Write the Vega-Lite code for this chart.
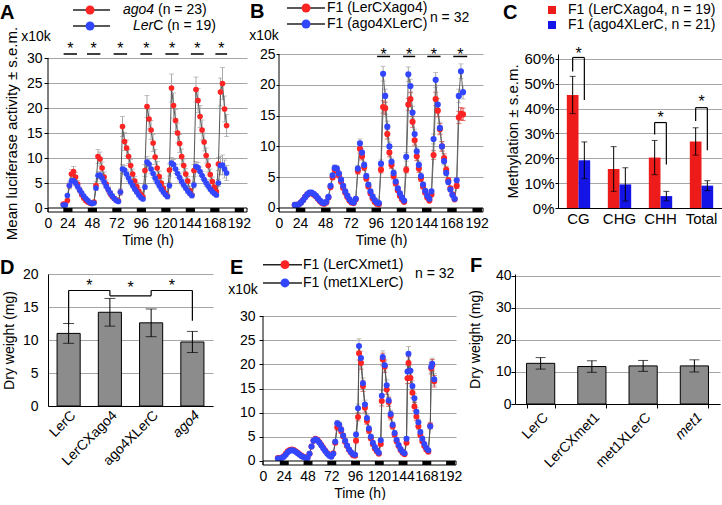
{
"$schema": "https://vega.github.io/schema/vega-lite/v6.json",
"background": "white",
"padding": {"left": 0, "top": 0, "right": 0, "bottom": 0},
"datasets": {
"A": [
{"s":"r","t":20,"v":0.8,"e":0.2},{"s":"r","t":22,"v":0.8,"e":0.2},{"s":"r","t":24,"v":1.5,"e":0.3},{"s":"r","t":26,"v":4.5,"e":0.7},{"s":"r","t":28,"v":6.8,"e":0.9},{"s":"r","t":30,"v":7.3,"e":1.0},{"s":"r","t":32,"v":6.2,"e":0.9},{"s":"r","t":34,"v":4.8,"e":0.7},{"s":"r","t":36,"v":3.6,"e":0.6},{"s":"r","t":38,"v":2.7,"e":0.5},{"s":"r","t":40,"v":2.0,"e":0.4},{"s":"r","t":42,"v":1.5,"e":0.3},{"s":"r","t":44,"v":1.2,"e":0.3},{"s":"r","t":46,"v":1.0,"e":0.3},{"s":"r","t":48,"v":0.9,"e":0.3},{"s":"r","t":50,"v":1.2,"e":0.3},
{"s":"r","t":52,"v":4.5,"e":0.8},{"s":"r","t":54,"v":10.3,"e":1.4},{"s":"r","t":56,"v":9.8,"e":1.4},{"s":"r","t":58,"v":8.0,"e":1.2},{"s":"r","t":60,"v":6.2,"e":1.0},{"s":"r","t":62,"v":4.8,"e":0.8},{"s":"r","t":64,"v":3.7,"e":0.7},{"s":"r","t":66,"v":2.9,"e":0.6},{"s":"r","t":68,"v":2.3,"e":0.5},{"s":"r","t":70,"v":1.9,"e":0.4},{"s":"r","t":72,"v":1.6,"e":0.4},{"s":"r","t":74,"v":1.4,"e":0.4},
{"s":"r","t":76,"v":3.2,"e":0.7},{"s":"r","t":78,"v":16.3,"e":2.0},{"s":"r","t":80,"v":13.3,"e":1.8},{"s":"r","t":82,"v":12.0,"e":1.6},{"s":"r","t":84,"v":10.3,"e":1.4},{"s":"r","t":86,"v":8.5,"e":1.2},{"s":"r","t":88,"v":6.8,"e":1.0},{"s":"r","t":90,"v":5.4,"e":0.9},{"s":"r","t":92,"v":4.3,"e":0.8},{"s":"r","t":94,"v":3.4,"e":0.7},{"s":"r","t":96,"v":2.7,"e":0.6},{"s":"r","t":98,"v":2.2,"e":0.5},
{"s":"r","t":100,"v":7.5,"e":1.2},{"s":"r","t":102,"v":20.3,"e":2.2},{"s":"r","t":104,"v":17.8,"e":2.0},{"s":"r","t":106,"v":15.6,"e":1.9},{"s":"r","t":108,"v":13.0,"e":1.7},{"s":"r","t":110,"v":10.2,"e":1.5},{"s":"r","t":112,"v":8.0,"e":1.3},{"s":"r","t":114,"v":6.3,"e":1.1},{"s":"r","t":116,"v":5.0,"e":0.9},{"s":"r","t":118,"v":4.0,"e":0.8},{"s":"r","t":120,"v":3.0,"e":0.7},{"s":"r","t":122,"v":2.4,"e":0.6},
{"s":"r","t":124,"v":7.6,"e":1.2},{"s":"r","t":126,"v":24.0,"e":2.8},{"s":"r","t":128,"v":20.5,"e":2.5},{"s":"r","t":130,"v":17.5,"e":2.2},{"s":"r","t":132,"v":15.0,"e":2.0},{"s":"r","t":134,"v":12.9,"e":1.8},{"s":"r","t":136,"v":10.3,"e":1.5},{"s":"r","t":138,"v":8.5,"e":1.3},{"s":"r","t":140,"v":6.8,"e":1.1},{"s":"r","t":142,"v":5.4,"e":0.9},{"s":"r","t":144,"v":3.5,"e":0.8},{"s":"r","t":146,"v":2.6,"e":0.6},
{"s":"r","t":148,"v":7.5,"e":1.2},{"s":"r","t":150,"v":23.7,"e":2.5},{"s":"r","t":152,"v":21.5,"e":2.4},{"s":"r","t":154,"v":18.3,"e":2.2},{"s":"r","t":156,"v":15.6,"e":2.0},{"s":"r","t":158,"v":13.2,"e":1.8},{"s":"r","t":160,"v":10.5,"e":1.5},{"s":"r","t":162,"v":8.5,"e":1.3},{"s":"r","t":164,"v":6.7,"e":1.1},{"s":"r","t":166,"v":5.3,"e":0.9},{"s":"r","t":168,"v":4.2,"e":0.8},{"s":"r","t":170,"v":3.3,"e":0.7},
{"s":"r","t":172,"v":8.8,"e":1.3},{"s":"r","t":174,"v":23.2,"e":2.8},{"s":"r","t":176,"v":24.9,"e":3.2},{"s":"r","t":178,"v":19.8,"e":2.6},{"s":"r","t":180,"v":16.5,"e":2.2},
{"s":"b","t":20,"v":0.6,"e":0.1},{"s":"b","t":22,"v":0.6,"e":0.1},{"s":"b","t":24,"v":2.5,"e":0.3},{"s":"b","t":26,"v":4.5,"e":0.5},{"s":"b","t":28,"v":5.4,"e":0.6},{"s":"b","t":30,"v":5.5,"e":0.6},{"s":"b","t":32,"v":5.0,"e":0.6},{"s":"b","t":34,"v":4.3,"e":0.5},{"s":"b","t":36,"v":3.6,"e":0.4},{"s":"b","t":38,"v":3.0,"e":0.4},{"s":"b","t":40,"v":2.4,"e":0.3},{"s":"b","t":42,"v":1.9,"e":0.3},{"s":"b","t":44,"v":1.5,"e":0.2},{"s":"b","t":46,"v":1.1,"e":0.2},{"s":"b","t":48,"v":0.9,"e":0.2},{"s":"b","t":50,"v":1.0,"e":0.2},
{"s":"b","t":52,"v":4.0,"e":0.5},{"s":"b","t":54,"v":6.5,"e":0.7},{"s":"b","t":56,"v":6.6,"e":0.7},{"s":"b","t":58,"v":6.0,"e":0.7},{"s":"b","t":60,"v":5.2,"e":0.6},{"s":"b","t":62,"v":4.4,"e":0.5},{"s":"b","t":64,"v":3.7,"e":0.5},{"s":"b","t":66,"v":3.0,"e":0.4},{"s":"b","t":68,"v":2.4,"e":0.3},{"s":"b","t":70,"v":1.9,"e":0.3},{"s":"b","t":72,"v":1.5,"e":0.3},{"s":"b","t":74,"v":1.3,"e":0.2},
{"s":"b","t":76,"v":3.2,"e":0.4},{"s":"b","t":78,"v":7.8,"e":0.9},{"s":"b","t":80,"v":7.6,"e":0.9},{"s":"b","t":82,"v":6.8,"e":0.8},{"s":"b","t":84,"v":6.0,"e":0.7},{"s":"b","t":86,"v":5.2,"e":0.6},{"s":"b","t":88,"v":4.5,"e":0.6},{"s":"b","t":90,"v":3.8,"e":0.5},{"s":"b","t":92,"v":3.2,"e":0.4},{"s":"b","t":94,"v":2.6,"e":0.4},{"s":"b","t":96,"v":2.1,"e":0.3},{"s":"b","t":98,"v":1.8,"e":0.3},
{"s":"b","t":100,"v":4.2,"e":0.5},{"s":"b","t":102,"v":9.2,"e":1.1},{"s":"b","t":104,"v":8.8,"e":1.0},{"s":"b","t":106,"v":7.8,"e":0.9},{"s":"b","t":108,"v":6.9,"e":0.8},{"s":"b","t":110,"v":6.0,"e":0.7},{"s":"b","t":112,"v":5.2,"e":0.6},{"s":"b","t":114,"v":4.5,"e":0.6},{"s":"b","t":116,"v":3.8,"e":0.5},{"s":"b","t":118,"v":3.2,"e":0.4},{"s":"b","t":120,"v":2.7,"e":0.4},{"s":"b","t":122,"v":2.3,"e":0.3},
{"s":"b","t":124,"v":4.5,"e":0.6},{"s":"b","t":126,"v":9.0,"e":1.1},{"s":"b","t":128,"v":8.7,"e":1.0},{"s":"b","t":130,"v":7.8,"e":0.9},{"s":"b","t":132,"v":6.9,"e":0.8},{"s":"b","t":134,"v":6.1,"e":0.7},{"s":"b","t":136,"v":5.3,"e":0.7},{"s":"b","t":138,"v":4.6,"e":0.6},{"s":"b","t":140,"v":4.0,"e":0.5},{"s":"b","t":142,"v":3.4,"e":0.5},{"s":"b","t":144,"v":2.9,"e":0.4},{"s":"b","t":146,"v":2.5,"e":0.4},
{"s":"b","t":148,"v":4.6,"e":0.6},{"s":"b","t":150,"v":8.3,"e":1.0},{"s":"b","t":152,"v":8.1,"e":1.0},{"s":"b","t":154,"v":7.3,"e":0.9},{"s":"b","t":156,"v":6.5,"e":0.8},{"s":"b","t":158,"v":5.7,"e":0.7},{"s":"b","t":160,"v":5.0,"e":0.7},{"s":"b","t":162,"v":4.4,"e":0.6},{"s":"b","t":164,"v":3.8,"e":0.5},{"s":"b","t":166,"v":3.3,"e":0.5},{"s":"b","t":168,"v":2.9,"e":0.4},{"s":"b","t":170,"v":2.6,"e":0.4},
{"s":"b","t":172,"v":5.0,"e":0.7},{"s":"b","t":174,"v":8.5,"e":1.8},{"s":"b","t":176,"v":8.6,"e":2.0},{"s":"b","t":178,"v":7.8,"e":1.8},{"s":"b","t":180,"v":7.0,"e":1.5}
],
"B": [
{"s":"r","t":19,"v":0.5,"e":0.1},{"s":"r","t":21,"v":0.5,"e":0.1},{"s":"r","t":23,"v":0.6,"e":0.1},{"s":"r","t":25,"v":0.9,"e":0.1},{"s":"r","t":27,"v":1.3,"e":0.1},{"s":"r","t":29,"v":1.8,"e":0.2},{"s":"r","t":31,"v":2.2,"e":0.2},{"s":"r","t":33,"v":2.4,"e":0.2},{"s":"r","t":35,"v":2.4,"e":0.2},{"s":"r","t":37,"v":2.2,"e":0.2},{"s":"r","t":39,"v":1.9,"e":0.2},{"s":"r","t":41,"v":1.5,"e":0.2},{"s":"r","t":43,"v":1.1,"e":0.1},{"s":"r","t":45,"v":0.8,"e":0.1},{"s":"r","t":47,"v":0.7,"e":0.1},{"s":"r","t":49,"v":0.9,"e":0.1},
{"s":"r","t":51,"v":1.7,"e":0.2},{"s":"r","t":53,"v":3.4,"e":0.3},{"s":"r","t":55,"v":5.0,"e":0.4},{"s":"r","t":57,"v":6.2,"e":0.5},{"s":"r","t":59,"v":6.1,"e":0.5},{"s":"r","t":61,"v":5.3,"e":0.4},{"s":"r","t":63,"v":4.3,"e":0.4},{"s":"r","t":65,"v":3.3,"e":0.3},{"s":"r","t":67,"v":2.5,"e":0.3},{"s":"r","t":69,"v":1.8,"e":0.2},{"s":"r","t":71,"v":1.2,"e":0.2},{"s":"r","t":73,"v":0.9,"e":0.1},{"s":"r","t":75,"v":0.8,"e":0.1},
{"s":"r","t":77,"v":1.4,"e":0.2},{"s":"r","t":79,"v":6.0,"e":0.5},{"s":"r","t":81,"v":9.6,"e":0.7},{"s":"r","t":83,"v":8.4,"e":0.6},{"s":"r","t":85,"v":6.6,"e":0.5},{"s":"r","t":87,"v":4.8,"e":0.4},{"s":"r","t":89,"v":3.5,"e":0.3},{"s":"r","t":91,"v":2.4,"e":0.3},{"s":"r","t":93,"v":1.6,"e":0.2},{"s":"r","t":95,"v":1.0,"e":0.2},{"s":"r","t":97,"v":0.7,"e":0.1},{"s":"r","t":99,"v":0.6,"e":0.1},
{"s":"r","t":101,"v":6.2,"e":0.5},{"s":"r","t":103,"v":16.4,"e":1.0},{"s":"r","t":105,"v":16.2,"e":1.0},{"s":"r","t":107,"v":12.0,"e":0.8},{"s":"r","t":109,"v":9.0,"e":0.7},{"s":"r","t":111,"v":7.0,"e":0.6},{"s":"r","t":113,"v":5.2,"e":0.5},{"s":"r","t":115,"v":4.0,"e":0.4},{"s":"r","t":117,"v":2.9,"e":0.3},{"s":"r","t":119,"v":2.0,"e":0.3},{"s":"r","t":121,"v":1.4,"e":0.2},{"s":"r","t":123,"v":1.0,"e":0.2},
{"s":"r","t":125,"v":6.2,"e":0.5},{"s":"r","t":127,"v":16.8,"e":1.0},{"s":"r","t":129,"v":17.7,"e":1.1},{"s":"r","t":131,"v":14.0,"e":0.9},{"s":"r","t":133,"v":11.0,"e":0.8},{"s":"r","t":135,"v":8.4,"e":0.7},{"s":"r","t":137,"v":6.4,"e":0.6},{"s":"r","t":139,"v":4.8,"e":0.5},{"s":"r","t":141,"v":3.5,"e":0.4},{"s":"r","t":143,"v":2.5,"e":0.3},{"s":"r","t":145,"v":1.7,"e":0.2},{"s":"r","t":147,"v":1.2,"e":0.2},
{"s":"r","t":149,"v":2.2,"e":0.3},{"s":"r","t":151,"v":8.6,"e":0.7},{"s":"r","t":153,"v":17.7,"e":1.1},{"s":"r","t":155,"v":15.8,"e":1.0},{"s":"r","t":157,"v":12.8,"e":0.9},{"s":"r","t":159,"v":10.0,"e":0.8},{"s":"r","t":161,"v":8.1,"e":0.7},{"s":"r","t":163,"v":6.2,"e":0.5},{"s":"r","t":165,"v":4.5,"e":0.4},{"s":"r","t":167,"v":3.2,"e":0.3},{"s":"r","t":169,"v":2.2,"e":0.3},{"s":"r","t":171,"v":1.4,"e":0.2},
{"s":"r","t":173,"v":3.6,"e":0.4},{"s":"r","t":175,"v":14.7,"e":1.0},{"s":"r","t":177,"v":15.3,"e":1.0},{"s":"r","t":179,"v":15.2,"e":1.0},
{"s":"b","t":19,"v":0.5,"e":0.1},{"s":"b","t":21,"v":0.5,"e":0.1},{"s":"b","t":23,"v":0.6,"e":0.1},{"s":"b","t":25,"v":0.9,"e":0.1},{"s":"b","t":27,"v":1.3,"e":0.1},{"s":"b","t":29,"v":1.8,"e":0.2},{"s":"b","t":31,"v":2.2,"e":0.2},{"s":"b","t":33,"v":2.5,"e":0.2},{"s":"b","t":35,"v":2.5,"e":0.2},{"s":"b","t":37,"v":2.3,"e":0.2},{"s":"b","t":39,"v":2.0,"e":0.2},{"s":"b","t":41,"v":1.6,"e":0.2},{"s":"b","t":43,"v":1.2,"e":0.1},{"s":"b","t":45,"v":0.9,"e":0.1},{"s":"b","t":47,"v":0.8,"e":0.1},{"s":"b","t":49,"v":1.0,"e":0.1},
{"s":"b","t":51,"v":1.8,"e":0.2},{"s":"b","t":53,"v":3.6,"e":0.3},{"s":"b","t":55,"v":5.3,"e":0.4},{"s":"b","t":57,"v":6.5,"e":0.5},{"s":"b","t":59,"v":6.4,"e":0.5},{"s":"b","t":61,"v":5.6,"e":0.4},{"s":"b","t":63,"v":4.6,"e":0.4},{"s":"b","t":65,"v":3.6,"e":0.3},{"s":"b","t":67,"v":2.7,"e":0.3},{"s":"b","t":69,"v":2.0,"e":0.2},{"s":"b","t":71,"v":1.4,"e":0.2},{"s":"b","t":73,"v":1.0,"e":0.1},{"s":"b","t":75,"v":0.9,"e":0.1},
{"s":"b","t":77,"v":1.5,"e":0.2},{"s":"b","t":79,"v":6.4,"e":0.5},{"s":"b","t":81,"v":10.5,"e":0.7},{"s":"b","t":83,"v":9.0,"e":0.6},{"s":"b","t":85,"v":7.0,"e":0.5},{"s":"b","t":87,"v":5.2,"e":0.4},{"s":"b","t":89,"v":3.8,"e":0.3},{"s":"b","t":91,"v":2.7,"e":0.3},{"s":"b","t":93,"v":1.9,"e":0.2},{"s":"b","t":95,"v":1.3,"e":0.2},{"s":"b","t":97,"v":0.9,"e":0.1},{"s":"b","t":99,"v":0.8,"e":0.1},
{"s":"b","t":101,"v":7.2,"e":0.6},{"s":"b","t":103,"v":21.8,"e":1.2},{"s":"b","t":105,"v":18.2,"e":1.1},{"s":"b","t":107,"v":13.2,"e":0.9},{"s":"b","t":109,"v":10.0,"e":0.7},{"s":"b","t":111,"v":7.5,"e":0.6},{"s":"b","t":113,"v":5.7,"e":0.5},{"s":"b","t":115,"v":4.3,"e":0.4},{"s":"b","t":117,"v":3.2,"e":0.3},{"s":"b","t":119,"v":2.4,"e":0.3},{"s":"b","t":121,"v":1.7,"e":0.2},{"s":"b","t":123,"v":1.2,"e":0.2},
{"s":"b","t":125,"v":8.3,"e":0.7},{"s":"b","t":127,"v":21.7,"e":1.2},{"s":"b","t":129,"v":19.8,"e":1.1},{"s":"b","t":131,"v":15.5,"e":1.0},{"s":"b","t":133,"v":12.0,"e":0.8},{"s":"b","t":135,"v":9.2,"e":0.7},{"s":"b","t":137,"v":7.0,"e":0.6},{"s":"b","t":139,"v":5.2,"e":0.5},{"s":"b","t":141,"v":3.8,"e":0.4},{"s":"b","t":143,"v":2.8,"e":0.3},{"s":"b","t":145,"v":2.0,"e":0.2},{"s":"b","t":147,"v":1.5,"e":0.2},
{"s":"b","t":149,"v":2.7,"e":0.3},{"s":"b","t":151,"v":11.2,"e":0.8},{"s":"b","t":153,"v":20.8,"e":1.2},{"s":"b","t":155,"v":16.8,"e":1.0},{"s":"b","t":157,"v":13.0,"e":0.9},{"s":"b","t":159,"v":10.0,"e":0.7},{"s":"b","t":161,"v":7.6,"e":0.6},{"s":"b","t":163,"v":5.7,"e":0.5},{"s":"b","t":165,"v":4.2,"e":0.4},{"s":"b","t":167,"v":3.0,"e":0.3},{"s":"b","t":169,"v":2.1,"e":0.2},{"s":"b","t":171,"v":1.5,"e":0.2},
{"s":"b","t":173,"v":4.5,"e":0.4},{"s":"b","t":175,"v":18.2,"e":1.1},{"s":"b","t":177,"v":22.2,"e":1.2},{"s":"b","t":179,"v":18.8,"e":1.1}
],
"E": [
{"s":"r","t":18,"v":0.6,"e":0.1},{"s":"r","t":20,"v":0.6,"e":0.1},{"s":"r","t":22,"v":0.7,"e":0.1},{"s":"r","t":24,"v":1.0,"e":0.1},{"s":"r","t":26,"v":1.5,"e":0.1},{"s":"r","t":28,"v":2.0,"e":0.2},{"s":"r","t":30,"v":2.3,"e":0.2},{"s":"r","t":32,"v":2.4,"e":0.2},{"s":"r","t":34,"v":2.3,"e":0.2},{"s":"r","t":36,"v":2.0,"e":0.2},{"s":"r","t":38,"v":1.7,"e":0.2},{"s":"r","t":40,"v":1.4,"e":0.1},{"s":"r","t":42,"v":1.1,"e":0.1},{"s":"r","t":44,"v":0.9,"e":0.1},{"s":"r","t":46,"v":0.7,"e":0.1},{"s":"r","t":48,"v":0.7,"e":0.1},
{"s":"r","t":50,"v":1.5,"e":0.2},{"s":"r","t":52,"v":3.0,"e":0.3},{"s":"r","t":54,"v":4.2,"e":0.3},{"s":"r","t":56,"v":4.6,"e":0.3},{"s":"r","t":58,"v":4.4,"e":0.3},{"s":"r","t":60,"v":3.9,"e":0.3},{"s":"r","t":62,"v":3.3,"e":0.3},{"s":"r","t":64,"v":2.7,"e":0.2},{"s":"r","t":66,"v":2.1,"e":0.2},{"s":"r","t":68,"v":1.6,"e":0.2},{"s":"r","t":70,"v":1.2,"e":0.1},{"s":"r","t":72,"v":1.0,"e":0.1},
{"s":"r","t":74,"v":1.6,"e":0.2},{"s":"r","t":76,"v":3.8,"e":0.4},{"s":"r","t":78,"v":7.0,"e":0.6},{"s":"r","t":80,"v":7.2,"e":0.6},{"s":"r","t":82,"v":6.2,"e":0.5},{"s":"r","t":84,"v":5.1,"e":0.4},{"s":"r","t":86,"v":4.0,"e":0.4},{"s":"r","t":88,"v":3.1,"e":0.3},{"s":"r","t":90,"v":2.3,"e":0.3},{"s":"r","t":92,"v":1.7,"e":0.2},{"s":"r","t":94,"v":1.2,"e":0.2},{"s":"r","t":96,"v":1.1,"e":0.2},
{"s":"r","t":97,"v":4.2,"e":0.4},{"s":"r","t":99,"v":9.1,"e":0.8},{"s":"r","t":100,"v":22.3,"e":1.4},{"s":"r","t":102,"v":20.3,"e":1.3},{"s":"r","t":104,"v":15.5,"e":1.1},{"s":"r","t":106,"v":11.0,"e":0.9},{"s":"r","t":108,"v":8.3,"e":0.7},{"s":"r","t":110,"v":6.3,"e":0.6},{"s":"r","t":112,"v":4.7,"e":0.5},{"s":"r","t":114,"v":3.5,"e":0.4},{"s":"r","t":116,"v":2.6,"e":0.3},{"s":"r","t":118,"v":2.0,"e":0.3},{"s":"r","t":120,"v":1.5,"e":0.2},
{"s":"r","t":122,"v":3.5,"e":0.4},{"s":"r","t":123,"v":12.4,"e":1.0},{"s":"r","t":124,"v":21.0,"e":1.3},{"s":"r","t":126,"v":19.5,"e":1.2},{"s":"r","t":128,"v":14.8,"e":1.0},{"s":"r","t":130,"v":12.2,"e":0.9},{"s":"r","t":132,"v":9.3,"e":0.8},{"s":"r","t":134,"v":7.2,"e":0.6},{"s":"r","t":136,"v":5.5,"e":0.5},{"s":"r","t":138,"v":4.1,"e":0.4},{"s":"r","t":140,"v":3.1,"e":0.3},{"s":"r","t":142,"v":2.3,"e":0.3},{"s":"r","t":144,"v":1.7,"e":0.2},{"s":"r","t":146,"v":1.4,"e":0.2},
{"s":"r","t":148,"v":3.8,"e":0.4},{"s":"r","t":149,"v":17.1,"e":1.1},{"s":"r","t":150,"v":20.3,"e":1.3},{"s":"r","t":152,"v":17.2,"e":1.1},{"s":"r","t":154,"v":14.1,"e":1.0},{"s":"r","t":156,"v":11.3,"e":0.9},{"s":"r","t":158,"v":9.2,"e":0.8},{"s":"r","t":160,"v":7.2,"e":0.6},{"s":"r","t":162,"v":5.4,"e":0.5},{"s":"r","t":164,"v":4.1,"e":0.4},{"s":"r","t":166,"v":3.1,"e":0.3},{"s":"r","t":168,"v":2.4,"e":0.3},{"s":"r","t":170,"v":1.9,"e":0.2},
{"s":"r","t":172,"v":7.3,"e":0.6},{"s":"r","t":173,"v":19.2,"e":1.2},{"s":"r","t":174,"v":19.8,"e":1.2},{"s":"r","t":176,"v":16.5,"e":1.2},
{"s":"b","t":18,"v":0.5,"e":0.1},{"s":"b","t":20,"v":0.5,"e":0.1},{"s":"b","t":22,"v":0.6,"e":0.1},{"s":"b","t":24,"v":0.9,"e":0.1},{"s":"b","t":26,"v":1.3,"e":0.1},{"s":"b","t":28,"v":1.8,"e":0.2},{"s":"b","t":30,"v":2.1,"e":0.2},{"s":"b","t":32,"v":2.2,"e":0.2},{"s":"b","t":34,"v":2.1,"e":0.2},{"s":"b","t":36,"v":1.9,"e":0.2},{"s":"b","t":38,"v":1.6,"e":0.2},{"s":"b","t":40,"v":1.3,"e":0.1},{"s":"b","t":42,"v":1.0,"e":0.1},{"s":"b","t":44,"v":0.8,"e":0.1},{"s":"b","t":46,"v":0.6,"e":0.1},{"s":"b","t":48,"v":0.6,"e":0.1},
{"s":"b","t":50,"v":1.5,"e":0.2},{"s":"b","t":52,"v":3.0,"e":0.3},{"s":"b","t":54,"v":4.2,"e":0.3},{"s":"b","t":56,"v":4.5,"e":0.3},{"s":"b","t":58,"v":4.3,"e":0.3},{"s":"b","t":60,"v":3.8,"e":0.3},{"s":"b","t":62,"v":3.2,"e":0.3},{"s":"b","t":64,"v":2.6,"e":0.2},{"s":"b","t":66,"v":2.0,"e":0.2},{"s":"b","t":68,"v":1.5,"e":0.2},{"s":"b","t":70,"v":1.1,"e":0.1},{"s":"b","t":72,"v":0.9,"e":0.1},
{"s":"b","t":74,"v":1.5,"e":0.2},{"s":"b","t":76,"v":4.0,"e":0.4},{"s":"b","t":78,"v":7.8,"e":0.6},{"s":"b","t":80,"v":7.5,"e":0.6},{"s":"b","t":82,"v":6.5,"e":0.5},{"s":"b","t":84,"v":5.3,"e":0.4},{"s":"b","t":86,"v":4.2,"e":0.4},{"s":"b","t":88,"v":3.2,"e":0.3},{"s":"b","t":90,"v":2.4,"e":0.3},{"s":"b","t":92,"v":1.8,"e":0.2},{"s":"b","t":94,"v":1.4,"e":0.2},{"s":"b","t":96,"v":1.3,"e":0.2},
{"s":"b","t":97,"v":5.5,"e":0.5},{"s":"b","t":99,"v":10.9,"e":0.9},{"s":"b","t":100,"v":23.8,"e":1.5},{"s":"b","t":102,"v":21.3,"e":1.4},{"s":"b","t":104,"v":16.1,"e":1.1},{"s":"b","t":106,"v":11.7,"e":0.9},{"s":"b","t":108,"v":8.9,"e":0.7},{"s":"b","t":110,"v":6.7,"e":0.6},{"s":"b","t":112,"v":5.0,"e":0.5},{"s":"b","t":114,"v":3.8,"e":0.4},{"s":"b","t":116,"v":2.9,"e":0.3},{"s":"b","t":118,"v":2.2,"e":0.3},{"s":"b","t":120,"v":1.7,"e":0.2},
{"s":"b","t":122,"v":4.3,"e":0.4},{"s":"b","t":123,"v":13.5,"e":1.1},{"s":"b","t":124,"v":21.5,"e":1.3},{"s":"b","t":126,"v":19.8,"e":1.2},{"s":"b","t":128,"v":15.7,"e":1.1},{"s":"b","t":130,"v":12.5,"e":0.9},{"s":"b","t":132,"v":9.7,"e":0.8},{"s":"b","t":134,"v":7.5,"e":0.6},{"s":"b","t":136,"v":5.8,"e":0.5},{"s":"b","t":138,"v":4.4,"e":0.4},{"s":"b","t":140,"v":3.3,"e":0.3},{"s":"b","t":142,"v":2.5,"e":0.3},{"s":"b","t":144,"v":1.9,"e":0.2},{"s":"b","t":146,"v":1.6,"e":0.2},
{"s":"b","t":148,"v":4.6,"e":0.4},{"s":"b","t":149,"v":18.5,"e":1.2},{"s":"b","t":150,"v":22.2,"e":1.5},{"s":"b","t":152,"v":18.7,"e":1.2},{"s":"b","t":154,"v":15.5,"e":1.1},{"s":"b","t":156,"v":13.0,"e":0.9},{"s":"b","t":158,"v":10.2,"e":0.8},{"s":"b","t":160,"v":8.0,"e":0.7},{"s":"b","t":162,"v":6.0,"e":0.5},{"s":"b","t":164,"v":4.6,"e":0.4},{"s":"b","t":166,"v":3.5,"e":0.3},{"s":"b","t":168,"v":2.7,"e":0.3},{"s":"b","t":170,"v":2.2,"e":0.2},
{"s":"b","t":172,"v":7.2,"e":0.6},{"s":"b","t":173,"v":19.5,"e":1.2},{"s":"b","t":174,"v":20.1,"e":1.2},{"s":"b","t":176,"v":16.9,"e":1.2}
],
"nights": [{"a":20,"b":29},{"a":44,"b":53},{"a":68,"b":77},{"a":92,"b":101},{"a":116,"b":125},{"a":140,"b":149},{"a":164,"b":173},{"a":188,"b":197}],
"starsA": [{"a":20.3,"b":33.4,"m":26.9},{"a":43.2,"b":56.3,"m":49.8},{"a":69.3,"b":82.5,"m":75.9},{"a":95.5,"b":107,"m":101.3},{"a":120,"b":133,"m":126.5},{"a":145,"b":157.6,"m":151.3},{"a":169,"b":180.5,"m":174.8}],
"starsB": [{"a":97.3,"b":109.6,"m":103.5},{"a":122,"b":133.5,"m":127.8},{"a":145,"b":157.6,"m":151.3},{"a":169.7,"b":183,"m":176.4}],
"C": [
{"c":"CG","g":"r","v":0.455,"lo":0.38,"hi":0.53},{"c":"CG","g":"b","v":0.192,"lo":0.118,"hi":0.266},
{"c":"CHG","g":"r","v":0.157,"lo":0.067,"hi":0.247},{"c":"CHG","g":"b","v":0.095,"lo":0.028,"hi":0.162},
{"c":"CHH","g":"r","v":0.203,"lo":0.134,"hi":0.272},{"c":"CHH","g":"b","v":0.048,"lo":0.029,"hi":0.067},
{"c":"Total","g":"r","v":0.268,"lo":0.213,"hi":0.323},{"c":"Total","g":"b","v":0.09,"lo":0.07,"hi":0.11}
],
"Cbr": [{"c":"CG","l":0.55,"r":0.435,"top":0.606,"st":0.601},{"c":"CHH","l":0.296,"r":0.175,"top":0.344,"st":0.341},{"c":"Total","l":0.35,"r":0.233,"top":0.404,"st":0.406}],
"D": [{"c":"LerC","v":11.0,"e":1.5},{"c":"LerCXago4","v":14.2,"e":2.1},{"c":"ago4XLerC","v":12.6,"e":2.1},{"c":"ago4","v":9.7,"e":1.6}],
"Dv": [{"c":"LerC","y1":12.4,"y2":17.5},{"c":"LerCXago4","y1":16.7,"y2":17.5},{"c":"ago4XLerC","y1":16.7,"y2":17.5},{"c":"ago4","y1":12.9,"y2":17.5}],
"Dh": [{"c1":"LerC","c2":"LerCXago4","y":17.5},{"c1":"LerCXago4","c2":"ago4XLerC","y":16.7},{"c1":"ago4XLerC","c2":"ago4","y":17.5}],
"Ds": [{"c":"LerC","y":17.4},{"c":"LerCXago4","y":17.1},{"c":"ago4XLerC","y":17.4}],
"F": [{"c":"LerC","v":12.7,"e":1.8},{"c":"LerCXmet1","v":11.7,"e":1.8},{"c":"met1XLerC","v":11.9,"e":1.7},{"c":"met1","v":11.9,"e":1.9}]
},
"spacing": 8,
"resolve": {"scale": {"color": "independent", "fill": "independent"}, "legend": {"color": "independent", "fill": "independent"}},
"vconcat": [
{"hconcat": [
{
 "width": 199, "height": 158,
 "layer": [
  {"data": {"name": "A"},
   "mark": {"type": "errorbar", "ticks": {"size": 5}, "color": "#a8a8a8"},
   "encoding": {
    "x": {"field": "t", "type": "quantitative", "scale": {"domain": [5, 200], "nice": false, "zero": false},
      "axis": {"title": "Time (h)", "values": [5,24,48,72,96,120,144,168,192], "tickCount": 50, "format": "d", "labelExpr": "datum.value == 5 ? '0' : datum.label", "labelFlush": false, "labelOverlap": false, "ticks": false, "domain": false, "grid": false, "labelPadding": 4, "titlePadding": 3}},
    "y": {"field": "v", "type": "quantitative", "scale": {"domain": [-0.8, 30.8], "nice": false, "zero": false},
      "axis": {"title": "Mean luciferase activity ± s.e.m.", "values": [0,5,10,15,20,25,30], "tickCount": 50, "format": "d", "domain": false, "tickSize": 4, "labelPadding": 2, "grid": true, "titleFontSize": 15, "titlePadding": 7}},
    "yError": {"field": "e"}
   }},
  {"data": {"name": "A"}, "mark": {"type": "line", "color": "#555", "strokeWidth": 1},
   "encoding": {"x": {"field": "t", "type": "quantitative"}, "y": {"field": "v", "type": "quantitative"}, "detail": {"field": "s"}}},
  {"data": {"name": "A"}, "mark": {"type": "point", "filled": true, "size": 32, "opacity": 1},
   "encoding": {"x": {"field": "t", "type": "quantitative"}, "y": {"field": "v", "type": "quantitative"},
    "color": {"field": "s", "type": "nominal", "scale": {"domain": ["r", "b"], "range": ["#ff2424", "#3346ff"]}, "legend": null}}},
  {"data": {"values": [{}]}, "mark": {"type": "rect", "fill": "white", "stroke": "black", "strokeWidth": 1},
   "encoding": {"x": {"datum": 5, "type": "quantitative"}, "x2": {"datum": 200}, "y": {"datum": -0.8, "type": "quantitative"}, "y2": {"datum": 0}}},
  {"data": {"name": "nights"}, "mark": {"type": "rect", "fill": "black"},
   "encoding": {"x": {"field": "a", "type": "quantitative"}, "x2": {"field": "b"}, "y": {"datum": -0.8, "type": "quantitative"}, "y2": {"datum": 0}}},
  {"data": {"values": [{}]}, "mark": {"type": "rule", "color": "black", "strokeWidth": 1},
   "encoding": {"x": {"datum": 5, "type": "quantitative"}, "y": {"datum": -0.8, "type": "quantitative"}, "y2": {"datum": 30}}},
  {"data": {"name": "starsA"}, "mark": {"type": "rule", "color": "black", "strokeWidth": 1.5},
   "encoding": {"x": {"field": "a", "type": "quantitative"}, "x2": {"field": "b"}, "y": {"datum": 30.8, "type": "quantitative"}}},
  {"data": {"name": "starsA"}, "mark": {"type": "text", "text": "*", "fontSize": 16, "baseline": "alphabetic", "align": "center"},
   "encoding": {"x": {"field": "m", "type": "quantitative"}, "y": {"datum": 30.9, "type": "quantitative"}}},
  {"data": {"values": [{}]}, "mark": {"type": "text", "text": "x10k", "fontSize": 14, "baseline": "middle", "align": "center", "dx": -12},
   "encoding": {"x": {"datum": 5, "type": "quantitative"}, "y": {"datum": 34.2, "type": "quantitative"}}},
  {"data": {"values": [{}]}, "mark": {"type": "text", "text": "A", "fontSize": 20, "fontWeight": "bold", "baseline": "alphabetic", "align": "left", "dx": -48},
   "encoding": {"x": {"datum": 5, "type": "quantitative"}, "y": {"datum": 37.8, "type": "quantitative"}}},
  {"data": {"values": [{}]}, "mark": {"type": "rule", "color": "#222", "strokeWidth": 1.5},
   "encoding": {"x": {"datum": 29.5, "type": "quantitative"}, "x2": {"datum": 65.8}, "y": {"datum": 39.6, "type": "quantitative"}}},
  {"data": {"values": [{}]}, "mark": {"type": "rule", "color": "#222", "strokeWidth": 1.5},
   "encoding": {"x": {"datum": 29.5, "type": "quantitative"}, "x2": {"datum": 65.8}, "y": {"datum": 36.4, "type": "quantitative"}}},
  {"data": {"values": [{}]}, "mark": {"type": "point", "filled": true, "size": 80, "opacity": 1, "color": "#ff2424"},
   "encoding": {"x": {"datum": 46.2, "type": "quantitative"}, "y": {"datum": 39.6, "type": "quantitative"}}},
  {"data": {"values": [{}]}, "mark": {"type": "point", "filled": true, "size": 80, "opacity": 1, "color": "#3346ff"},
   "encoding": {"x": {"datum": 46.2, "type": "quantitative"}, "y": {"datum": 36.4, "type": "quantitative"}}},
  {"data": {"values": [{}]}, "mark": {"type": "text", "text": "ago4", "fontStyle": "italic", "fontSize": 14, "baseline": "middle", "align": "left"},
   "encoding": {"x": {"datum": 78.5, "type": "quantitative"}, "y": {"datum": 39.6, "type": "quantitative"}}},
  {"data": {"values": [{}]}, "mark": {"type": "text", "text": "(n = 23)", "fontSize": 14, "baseline": "middle", "align": "left", "dx": 35},
   "encoding": {"x": {"datum": 78.5, "type": "quantitative"}, "y": {"datum": 39.6, "type": "quantitative"}}},
  {"data": {"values": [{}]}, "mark": {"type": "text", "text": "Ler", "fontStyle": "italic", "fontSize": 14, "baseline": "middle", "align": "left"},
   "encoding": {"x": {"datum": 88.3, "type": "quantitative"}, "y": {"datum": 36.4, "type": "quantitative"}}},
  {"data": {"values": [{}]}, "mark": {"type": "text", "text": "C (n = 19)", "fontSize": 14, "baseline": "middle", "align": "left", "dx": 20.2},
   "encoding": {"x": {"datum": 88.3, "type": "quantitative"}, "y": {"datum": 36.4, "type": "quantitative"}}}
 ]
},
{"width": 4, "height": 1, "data": {"values": [{}]}, "mark": {"type": "point", "opacity": 0}, "encoding": {}},
{
 "width": 204, "height": 158,
 "layer": [
  {"data": {"name": "B"}, "transform": [{"filter": "datum.s == 'b'"}],
   "mark": {"type": "errorbar", "ticks": {"size": 5}, "color": "#a8a8a8"},
   "encoding": {
    "x": {"field": "t", "type": "quantitative", "scale": {"domain": [4, 198], "nice": false, "zero": false},
      "axis": {"title": "Time (h)", "values": [4,24,48,72,96,120,144,168,192], "tickCount": 50, "format": "d", "labelExpr": "datum.value == 4 ? '0' : datum.label", "labelFlush": false, "labelOverlap": false, "ticks": false, "domain": false, "grid": false, "labelPadding": 4, "titlePadding": 3}},
    "y": {"field": "v", "type": "quantitative", "scale": {"domain": [-0.65, 25], "nice": false, "zero": false},
      "axis": {"title": null, "values": [0,5,10,15,20,25], "tickCount": 50, "format": "d", "domain": false, "tickSize": 3, "labelPadding": 1, "grid": true}},
    "yError": {"field": "e"}
   }},
  {"data": {"name": "B"}, "transform": [{"filter": "datum.s == 'r'"}],
   "mark": {"type": "errorbar", "ticks": {"size": 5}, "color": "#e23a3a"},
   "encoding": {"x": {"field": "t", "type": "quantitative"}, "y": {"field": "v", "type": "quantitative", "title": null}, "yError": {"field": "e"}}},
  {"data": {"name": "B"}, "mark": {"type": "line", "color": "#666", "strokeWidth": 1},
   "encoding": {"x": {"field": "t", "type": "quantitative"}, "y": {"field": "v", "type": "quantitative"}, "detail": {"field": "s"}}},
  {"data": {"name": "B"}, "mark": {"type": "point", "filled": true, "size": 38, "opacity": 1},
   "encoding": {"x": {"field": "t", "type": "quantitative"}, "y": {"field": "v", "type": "quantitative"},
    "color": {"field": "s", "type": "nominal", "scale": {"domain": ["r", "b"], "range": ["#ff2424", "#3346ff"]}, "legend": null}}},
  {"data": {"values": [{}]}, "mark": {"type": "rect", "fill": "white", "stroke": "black", "strokeWidth": 1},
   "encoding": {"x": {"datum": 4, "type": "quantitative"}, "x2": {"datum": 198}, "y": {"datum": -0.65, "type": "quantitative"}, "y2": {"datum": 0}}},
  {"data": {"name": "nights"}, "mark": {"type": "rect", "fill": "black"},
   "encoding": {"x": {"field": "a", "type": "quantitative"}, "x2": {"field": "b"}, "y": {"datum": -0.65, "type": "quantitative"}, "y2": {"datum": 0}}},
  {"data": {"values": [{}]}, "mark": {"type": "rule", "color": "black", "strokeWidth": 1},
   "encoding": {"x": {"datum": 4, "type": "quantitative"}, "y": {"datum": -0.65, "type": "quantitative"}, "y2": {"datum": 25}}},
  {"data": {"name": "starsB"}, "mark": {"type": "rule", "color": "black", "strokeWidth": 1.5},
   "encoding": {"x": {"field": "a", "type": "quantitative"}, "x2": {"field": "b"}, "y": {"datum": 24.6, "type": "quantitative"}}},
  {"data": {"name": "starsB"}, "mark": {"type": "text", "text": "*", "fontSize": 16, "baseline": "alphabetic", "align": "center"},
   "encoding": {"x": {"field": "m", "type": "quantitative"}, "y": {"datum": 24.1, "type": "quantitative"}}},
  {"data": {"values": [{}]}, "mark": {"type": "text", "text": "x10k", "fontSize": 14, "baseline": "middle", "align": "center", "dx": -15},
   "encoding": {"x": {"datum": 4, "type": "quantitative"}, "y": {"datum": 27.9, "type": "quantitative"}}},
  {"data": {"values": [{}]}, "mark": {"type": "text", "text": "B", "fontSize": 20, "fontWeight": "bold", "baseline": "alphabetic", "align": "left", "dx": -29},
   "encoding": {"x": {"datum": 4, "type": "quantitative"}, "y": {"datum": 30.84, "type": "quantitative"}}},
  {"data": {"values": [{}]}, "mark": {"type": "rule", "color": "#222", "strokeWidth": 1.5},
   "encoding": {"x": {"datum": 11.6, "type": "quantitative"}, "x2": {"datum": 47.7}, "y": {"datum": 32.47, "type": "quantitative"}}},
  {"data": {"values": [{}]}, "mark": {"type": "rule", "color": "#222", "strokeWidth": 1.5},
   "encoding": {"x": {"datum": 11.6, "type": "quantitative"}, "x2": {"datum": 47.7}, "y": {"datum": 29.87, "type": "quantitative"}}},
  {"data": {"values": [{}]}, "mark": {"type": "point", "filled": true, "size": 80, "opacity": 1, "color": "#ff2424"},
   "encoding": {"x": {"datum": 29.7, "type": "quantitative"}, "y": {"datum": 32.47, "type": "quantitative"}}},
  {"data": {"values": [{}]}, "mark": {"type": "point", "filled": true, "size": 80, "opacity": 1, "color": "#3346ff"},
   "encoding": {"x": {"datum": 29.7, "type": "quantitative"}, "y": {"datum": 29.87, "type": "quantitative"}}},
  {"data": {"values": [{}]}, "mark": {"type": "text", "text": "F1 (LerCXago4)", "fontSize": 14, "baseline": "middle", "align": "left"},
   "encoding": {"x": {"datum": 49.6, "type": "quantitative"}, "y": {"datum": 32.47, "type": "quantitative"}}},
  {"data": {"values": [{}]}, "mark": {"type": "text", "text": "F1 (ago4XLerC)", "fontSize": 14, "baseline": "middle", "align": "left"},
   "encoding": {"x": {"datum": 49.6, "type": "quantitative"}, "y": {"datum": 29.87, "type": "quantitative"}}},
  {"data": {"values": [{}]}, "mark": {"type": "text", "text": "n = 32", "fontSize": 14, "baseline": "middle", "align": "left"},
   "encoding": {"x": {"datum": 147.5, "type": "quantitative"}, "y": {"datum": 30.84, "type": "quantitative"}}}
 ]
},
{"width": 47, "height": 1, "data": {"values": [{}]}, "mark": {"type": "point", "opacity": 0}, "encoding": {}},
{
 "width": 164, "height": 154,
 "layer": [
  {"data": {"name": "C"}, "mark": {"type": "bar"},
   "encoding": {
    "x": {"field": "c", "type": "nominal", "sort": null, "scale": {"domain": ["CG", "CHG", "CHH", "Total"], "paddingInner": 0.43, "paddingOuter": 0.215},
      "axis": {"title": null, "labelAngle": 0, "ticks": false, "labelFontSize": 15, "labelPadding": 3}},
    "xOffset": {"field": "g", "type": "nominal", "scale": {"domain": ["r", "b"], "paddingInner": 0, "paddingOuter": 0}},
    "y": {"field": "v", "type": "quantitative", "scale": {"domain": [0, 0.62], "nice": false},
      "axis": {"title": "Methylation ± s.e.m.", "values": [0,0.1,0.2,0.3,0.4,0.5,0.6], "tickCount": 50, "format": ".0%", "tickSize": 3, "labelPadding": 1, "grid": true, "labelFontSize": 15, "titleFontSize": 15, "titlePadding": 3}},
    "fill": {"field": "g", "type": "nominal", "scale": {"domain": ["r", "b"], "range": ["#ee1b1b", "#1414e6"]},
     "legend": {"orient": "none", "legendX": -55, "legendY": -51, "title": "C", "titleOrient": "left", "titleAnchor": "start", "titleBaseline": "top", "titlePadding": 27, "titleFontSize": 20, "titleFontWeight": "bold", "titleColor": "#000", "titleFont": "Liberation Sans",
      "symbolType": "square", "symbolSize": 64, "symbolStrokeWidth": 0, "rowPadding": 1, "labelOffset": 9,
      "labelExpr": "datum.value == 'r' ? 'F1 (LerCXago4, n = 19)' : 'F1 (ago4XLerC, n = 21)'"}}
   }},
  {"data": {"name": "C"}, "mark": {"type": "rule", "color": "black", "strokeWidth": 1},
   "encoding": {"x": {"field": "c", "type": "nominal"}, "xOffset": {"field": "g", "type": "nominal"}, "y": {"field": "lo", "type": "quantitative"}, "y2": {"field": "hi"}}},
  {"data": {"name": "C"}, "mark": {"type": "tick", "color": "black", "size": 6, "thickness": 1},
   "encoding": {"x": {"field": "c", "type": "nominal"}, "xOffset": {"field": "g", "type": "nominal"}, "y": {"field": "lo", "type": "quantitative"}}},
  {"data": {"name": "C"}, "mark": {"type": "tick", "color": "black", "size": 6, "thickness": 1},
   "encoding": {"x": {"field": "c", "type": "nominal"}, "xOffset": {"field": "g", "type": "nominal"}, "y": {"field": "hi", "type": "quantitative"}}},
  {"data": {"name": "Cbr"}, "mark": {"type": "rule", "color": "black", "strokeWidth": 1.2},
   "encoding": {"x": {"field": "c", "type": "nominal", "bandPosition": 0.25}, "y": {"field": "l", "type": "quantitative"}, "y2": {"field": "top"}}},
  {"data": {"name": "Cbr"}, "mark": {"type": "rule", "color": "black", "strokeWidth": 1.2},
   "encoding": {"x": {"field": "c", "type": "nominal", "bandPosition": 0.75}, "y": {"field": "r", "type": "quantitative"}, "y2": {"field": "top"}}},
  {"data": {"name": "Cbr"}, "mark": {"type": "rule", "color": "black", "strokeWidth": 1.2},
   "encoding": {"x": {"field": "c", "type": "nominal", "bandPosition": 0.25}, "x2": {"field": "c", "bandPosition": 0.75}, "y": {"field": "top", "type": "quantitative"}}},
  {"data": {"name": "Cbr"}, "mark": {"type": "text", "text": "*", "fontSize": 16, "baseline": "alphabetic", "align": "center"},
   "encoding": {"x": {"field": "c", "type": "nominal", "bandPosition": 0.5}, "y": {"field": "st", "type": "quantitative"}}}
 ]
}
], "spacing": 14, "bounds": "flush",
 "resolve": {"scale": {"color": "independent", "fill": "independent"}, "legend": {"color": "independent", "fill": "independent"}}},
{"hconcat": [
{
 "width": 165, "height": 132,
 "layer": [
  {"data": {"name": "D"}, "mark": {"type": "bar", "color": "#8c8c8c", "stroke": "black", "strokeWidth": 1},
   "encoding": {
    "x": {"field": "c", "type": "nominal", "sort": null, "scale": {"domain": ["LerC", "LerCXago4", "ago4XLerC", "ago4"], "paddingInner": 0.44, "paddingOuter": 0.22},
      "axis": {"title": null, "labelAngle": -45, "ticks": false, "labelPadding": 2, "labelFontStyle": {"condition": {"test": "datum.value === 'ago4'", "value": "italic"}, "value": "normal"}}},
    "y": {"field": "v", "type": "quantitative", "title": "Dry weight (mg)", "scale": {"domain": [0, 20], "nice": false},
      "axis": {"values": [0,5,10,15,20], "tickCount": 50, "format": "d", "ticks": false, "labelPadding": 10, "grid": true, "titlePadding": 6}}
   }},
  {"data": {"name": "D"}, "mark": {"type": "errorbar", "ticks": {"size": 11}, "color": "black"},
   "encoding": {"x": {"field": "c", "type": "nominal"}, "y": {"field": "v", "type": "quantitative", "title": "Dry weight (mg)"}, "yError": {"field": "e"}}},
  {"data": {"name": "Dv"}, "mark": {"type": "rule", "color": "black", "strokeWidth": 1.2},
   "encoding": {"x": {"field": "c", "type": "nominal", "bandPosition": 0.5}, "y": {"field": "y1", "type": "quantitative"}, "y2": {"field": "y2"}}},
  {"data": {"name": "Dh"}, "mark": {"type": "rule", "color": "black", "strokeWidth": 1.2},
   "encoding": {"x": {"field": "c1", "type": "nominal", "bandPosition": 0.5}, "x2": {"field": "c2", "bandPosition": 0.5}, "y": {"field": "y", "type": "quantitative"}}},
  {"data": {"name": "Ds"}, "mark": {"type": "text", "text": "*", "fontSize": 16, "baseline": "alphabetic", "align": "center"},
   "encoding": {"x": {"field": "c", "type": "nominal", "bandPosition": 1.393}, "y": {"field": "y", "type": "quantitative"}}},
  {"data": {"values": [{}]}, "mark": {"type": "text", "text": "D", "fontSize": 20, "fontWeight": "bold", "baseline": "alphabetic", "align": "left", "dx": -68.6},
   "encoding": {"x": {"datum": "LerC", "type": "nominal"}, "y": {"datum": 20, "type": "quantitative"}}}
 ]
},
{"width": 22, "height": 1, "data": {"values": [{}]}, "mark": {"type": "point", "opacity": 0}, "encoding": {}},
{
 "width": 193, "height": 191,
 "layer": [
  {"data": {"name": "E"}, "transform": [{"filter": "datum.s == 'b'"}],
   "mark": {"type": "errorbar", "ticks": {"size": 5}, "color": "#a8a8a8"},
   "encoding": {
    "x": {"field": "t", "type": "quantitative", "scale": {"domain": [3, 198], "nice": false, "zero": false},
      "axis": {"title": "Time (h)", "values": [3,24,48,72,96,120,144,168,192], "tickCount": 50, "format": "d", "labelExpr": "datum.value == 3 ? '0' : datum.label", "labelFlush": false, "labelOverlap": false, "ticks": false, "domain": false, "grid": false, "labelPadding": 4, "titlePadding": 3}},
    "y": {"field": "v", "type": "quantitative", "scale": {"domain": [-0.83, 38.7], "nice": false, "zero": false},
      "axis": {"title": null, "values": [0,5,10,15,20,25,30], "tickCount": 50, "format": "d", "domain": false, "tickSize": 4, "labelPadding": 4, "grid": true}},
    "yError": {"field": "e"}
   }},
  {"data": {"name": "E"}, "transform": [{"filter": "datum.s == 'r'"}],
   "mark": {"type": "errorbar", "ticks": {"size": 5}, "color": "#d04040"},
   "encoding": {"x": {"field": "t", "type": "quantitative"}, "y": {"field": "v", "type": "quantitative", "title": null}, "yError": {"field": "e"}}},
  {"data": {"name": "E"}, "mark": {"type": "line", "color": "#555", "strokeWidth": 1},
   "encoding": {"x": {"field": "t", "type": "quantitative"}, "y": {"field": "v", "type": "quantitative"}, "detail": {"field": "s"}}},
  {"data": {"name": "E"}, "mark": {"type": "point", "filled": true, "size": 36, "opacity": 1},
   "encoding": {"x": {"field": "t", "type": "quantitative"}, "y": {"field": "v", "type": "quantitative"},
    "color": {"field": "s", "type": "nominal", "scale": {"domain": ["r", "b"], "range": ["#ff2424", "#3346ff"]}, "legend": null}}},
  {"data": {"values": [{}]}, "mark": {"type": "rect", "fill": "white", "stroke": "black", "strokeWidth": 1},
   "encoding": {"x": {"datum": 3, "type": "quantitative"}, "x2": {"datum": 198}, "y": {"datum": -0.83, "type": "quantitative"}, "y2": {"datum": 0}}},
  {"data": {"name": "nights"}, "mark": {"type": "rect", "fill": "black"},
   "encoding": {"x": {"field": "a", "type": "quantitative"}, "x2": {"field": "b"}, "y": {"datum": -0.83, "type": "quantitative"}, "y2": {"datum": 0}}},
  {"data": {"values": [{}]}, "mark": {"type": "rule", "color": "black", "strokeWidth": 1},
   "encoding": {"x": {"datum": 3, "type": "quantitative"}, "y": {"datum": -0.83, "type": "quantitative"}, "y2": {"datum": 30}}},
  {"data": {"values": [{}]}, "mark": {"type": "text", "text": "x10k", "fontSize": 14, "baseline": "middle", "align": "center", "dx": -20},
   "encoding": {"x": {"datum": 3, "type": "quantitative"}, "y": {"datum": 35.3, "type": "quantitative"}}},
  {"data": {"values": [{}]}, "mark": {"type": "text", "text": "E", "fontSize": 20, "fontWeight": "bold", "baseline": "alphabetic", "align": "left", "dx": -33},
   "encoding": {"x": {"datum": 3, "type": "quantitative"}, "y": {"datum": 38.7, "type": "quantitative"}}},
  {"data": {"values": [{}]}, "mark": {"type": "rule", "color": "#222", "strokeWidth": 1.5},
   "encoding": {"x": {"datum": 3, "type": "quantitative"}, "x2": {"datum": 42.4}, "y": {"datum": 40.64, "type": "quantitative"}}},
  {"data": {"values": [{}]}, "mark": {"type": "rule", "color": "#222", "strokeWidth": 1.5},
   "encoding": {"x": {"datum": 3, "type": "quantitative"}, "x2": {"datum": 42.4}, "y": {"datum": 36.85, "type": "quantitative"}}},
  {"data": {"values": [{}]}, "mark": {"type": "point", "filled": true, "size": 80, "opacity": 1, "color": "#ff2424"},
   "encoding": {"x": {"datum": 25.2, "type": "quantitative"}, "y": {"datum": 40.64, "type": "quantitative"}}},
  {"data": {"values": [{}]}, "mark": {"type": "point", "filled": true, "size": 80, "opacity": 1, "color": "#3346ff"},
   "encoding": {"x": {"datum": 25.2, "type": "quantitative"}, "y": {"datum": 36.85, "type": "quantitative"}}},
  {"data": {"values": [{}]}, "mark": {"type": "text", "text": "F1 (LerCXmet1)", "fontSize": 14, "baseline": "middle", "align": "left"},
   "encoding": {"x": {"datum": 43.4, "type": "quantitative"}, "y": {"datum": 40.64, "type": "quantitative"}}},
  {"data": {"values": [{}]}, "mark": {"type": "text", "text": "F1 (met1XLerC)", "fontSize": 14, "baseline": "middle", "align": "left"},
   "encoding": {"x": {"datum": 43.4, "type": "quantitative"}, "y": {"datum": 36.85, "type": "quantitative"}}},
  {"data": {"values": [{}]}, "mark": {"type": "text", "text": "n = 32", "fontSize": 14, "baseline": "middle", "align": "left"},
   "encoding": {"x": {"datum": 156.6, "type": "quantitative"}, "y": {"datum": 38.72, "type": "quantitative"}}}
 ]
},
{"width": 31, "height": 1, "data": {"values": [{}]}, "mark": {"type": "point", "opacity": 0}, "encoding": {}},
{
 "width": 205, "height": 130,
 "layer": [
  {"data": {"name": "F"}, "mark": {"type": "bar", "color": "#8c8c8c", "stroke": "black", "strokeWidth": 1},
   "encoding": {
    "x": {"field": "c", "type": "nominal", "sort": null, "scale": {"domain": ["LerC", "LerCXmet1", "met1XLerC", "met1"], "paddingInner": 0.45, "paddingOuter": 0.225},
      "axis": {"title": null, "labelAngle": -45, "ticks": true, "tickBand": "extent", "tickSize": 4, "labelPadding": 2, "labelFontStyle": {"condition": {"test": "datum.value === 'met1'", "value": "italic"}, "value": "normal"}}},
    "y": {"field": "v", "type": "quantitative", "title": "Dry weight (mg)", "scale": {"domain": [0, 40.6], "nice": false},
      "axis": {"values": [0,10,20,30,40], "tickCount": 50, "format": "d", "tickSize": 4, "labelPadding": 0, "grid": true, "titlePadding": 13}}
   }},
  {"data": {"name": "F"}, "mark": {"type": "errorbar", "ticks": {"size": 10}, "color": "black"},
   "encoding": {"x": {"field": "c", "type": "nominal"}, "y": {"field": "v", "type": "quantitative", "title": "Dry weight (mg)"}, "yError": {"field": "e"}}},
  {"data": {"values": [{}]}, "mark": {"type": "text", "text": "F", "fontSize": 20, "fontWeight": "bold", "baseline": "alphabetic", "align": "left", "dx": -70.6},
   "encoding": {"x": {"datum": "LerC", "type": "nominal"}, "y": {"datum": 41.25, "type": "quantitative"}}}
 ]
}
], "spacing": 14, "bounds": "flush",
 "resolve": {"scale": {"color": "independent", "fill": "independent"}, "legend": {"color": "independent", "fill": "independent"}}}
],
"config": {
 "font": "Liberation Sans",
 "view": {"stroke": null},
 "axis": {"labelFontSize": 14, "titleFontSize": 14, "labelColor": "#000", "titleColor": "#000", "titleFontWeight": "normal", "domainColor": "#000", "tickColor": "#000", "gridColor": "#a6a6a6", "labelFont": "Liberation Sans", "titleFont": "Liberation Sans"},
 "axisQuantitative": {"labelOverlap": false},
 "legend": {"labelFontSize": 14, "labelFont": "Liberation Sans", "labelColor": "#000", "padding": 0, "rowPadding": 1}
}
}
